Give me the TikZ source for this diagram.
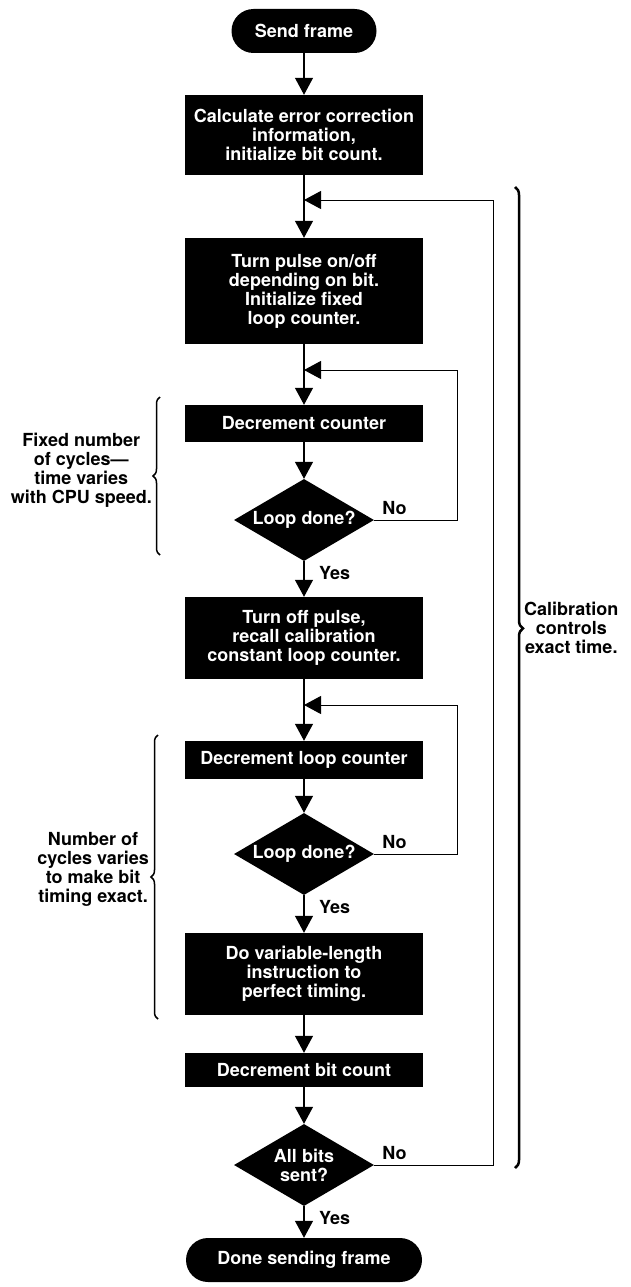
\documentclass[tikz,border=0pt]{standalone}
\usepackage{fontspec}
\setmainfont{TeX Gyre Heros}
\usetikzlibrary{shapes.geometric,arrows.meta,decorations.pathreplacing}
\newcommand{\chartfont}{\fontsize{18}{19}\selectfont\bfseries}

\begin{document}
\begin{tikzpicture}[x=1pt,y=-1pt,
        box/.style={rectangle,fill=black,text=white,minimum width=238pt,inner sep=0pt,align=center,font=\chartfont},
        term/.style={box,rounded corners=22pt,minimum height=44pt},
        test/.style={diamond,aspect=1.7,fill=black,text=white,minimum width=140pt,minimum height=82pt,inner sep=0pt,align=center,font=\chartfont},
        flow/.style={line width=1.2pt,-{Triangle[length=17pt,width=18pt]}},
        lbl/.style={inner sep=0pt,font=\chartfont},
        note/.style={inner sep=0pt,align=center,font=\chartfont},
        curly/.style={decorate,decoration={brace,amplitude=7pt},line width=1.5pt},
        curlyright/.style={decorate,decoration={brace,amplitude=8pt,aspect=0.45},line width=2.5pt}]
        \useasboundingbox (0,0) rectangle (630,1287);

        \node[term,minimum width=145pt] (start) at (304,31) {Send frame};
        \node[box,minimum height=80pt] (calc) at (304,135) {Calculate error correction\\information,\\initialize bit count.};
        \node[box,minimum height=106pt] (pulse) at (304,291) {Turn pulse on/off\\depending on bit.\\Initialize fixed\\loop counter.};
        \node[box,minimum height=37pt] (dec1) at (304,423.5) {Decrement counter};
        \node[test] (d1) at (304,520) {Loop done?};
        \node[box,minimum height=82pt] (off) at (304,638) {Turn off pulse,\\recall calibration\\constant loop counter.};
        \node[box,minimum height=38pt] (dec2) at (304,760) {Decrement loop counter};
        \node[test] (d2) at (304,854) {Loop done?};
        \node[box,minimum height=82pt] (var) at (304,974) {Do variable-length\\instruction to\\perfect timing.};
        \node[box,minimum height=34pt] (decb) at (304,1070) {Decrement bit count};
        \node[test] (d3) at (304,1165) {All bits\\sent?};
        \node[term,minimum width=236pt] (done) at (304,1260) {Done sending frame};

        \coordinate (j1) at (304,200);
        \coordinate (j2) at (304,370);
        \coordinate (j3) at (304,705);
        \coordinate (c1) at (457,370);
        \coordinate (c2) at (457,705);
        \coordinate (c3) at (493,200);

        \foreach \a/\b in {start/calc,calc/pulse,pulse/dec1,dec1/d1,d1/off,off/dec2,dec2/d2,d2/var,var/decb,decb/d3,d3/done}
        {
            \draw[flow] (\a) -- (\b);
        }

        \draw[flow,line width=1pt] (d1.east) -| (c1) -- (j2);
        \draw[flow,line width=1pt] (d2.east) -| (c2) -- (j3);
        \draw[flow,line width=1pt] (d3.east) -| (c3) -- (j1);

        \foreach \t in {d1,d2,d3}
        {
            \node[lbl,anchor=south west] (no\t) at ([xshift=8pt,yshift=5pt]\t.east) {No};
            \node[lbl,anchor=west] (yes\t) at ([xshift=15pt,yshift=-12pt]\t.south) {Yes};
        }

        \draw[curly] (160,555) -- (160,397);
        \draw[curly] (158,1019) -- (158,735);
        \draw[curlyright] (515,187) -- (515,1168);

        \node[note,anchor=east] (fixednote) at (152,470) {Fixed number\\of cycles---\\time varies\\with CPU speed.};
        \node[note,anchor=east] (varnote) at (149,869) {Number of\\cycles varies\\to make bit\\timing exact.};
        \node[note,anchor=west] (calnote) at (524,628) {Calibration\\controls\\exact time.};
    \end{tikzpicture}
\end{document}
